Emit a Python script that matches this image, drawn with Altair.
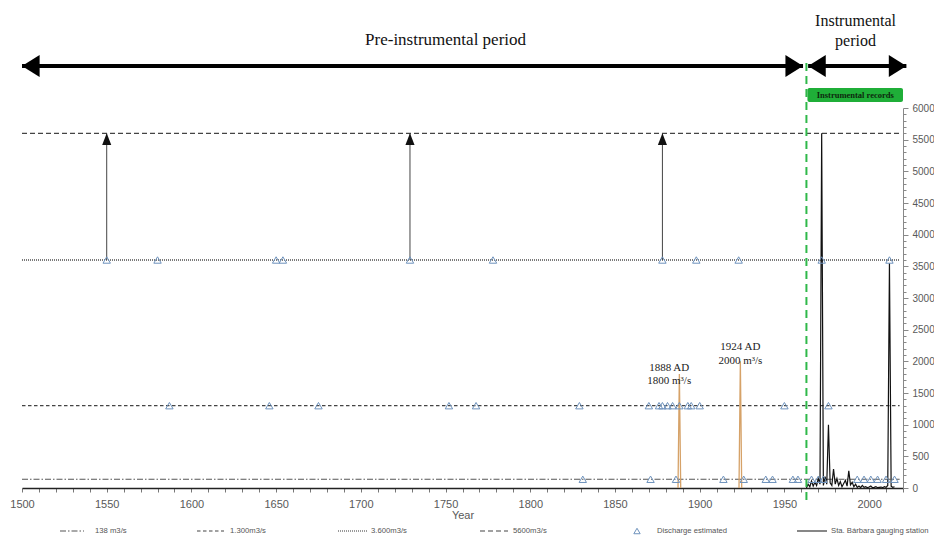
import altair as alt
import pandas as pd

# ---------------- data ----------------
ref_levels = [138, 1300, 3600, 5600]
ref_names = ["138 m3/s", "1.300m3/s", "3.600m3/s", "5600m3/s"]
ref_start, ref_end = 1500, 2018

est_years_138 = [1831, 1871, 1886, 1914, 1926, 1939, 1943, 1955, 1958, 1966,
                 1970, 1973, 1993, 1997, 2001, 2005, 2010, 2015]
est_years_1300 = [1587, 1646, 1675, 1752, 1768, 1829, 1870, 1876, 1878, 1881,
                  1884, 1888, 1893, 1895, 1900, 1950, 1976]
est_years_3600 = [1550, 1580, 1650, 1654, 1729, 1778, 1878, 1898, 1923, 1972, 2012]

arrow_years = [1550, 1729, 1878]
arrow_from, arrow_to = 3600, 5600

gauge_years = list(range(1963, 2016))
gauge_q = [0, 60, 20, 110, 30, 90, 40, 150, 60, 5600,
           40, 180, 60, 1000, 80, 40, 300, 60, 150, 40,
           100, 20, 70, 120, 30, 270, 50, 90, 20, 60,
           10, 30, 5, 40, 10, 20, 5, 15, 30, 5,
           10, 20, 5, 10, 15, 5, 20, 10, 40, 3550,
           30, 10, 20]

hist_years = [1888, 1924]
hist_q = [1800, 2000]
hist_line1 = ["1888 AD", "1924 AD"]
hist_line2 = ["1800 m³/s", "2000 m³/s"]

instrumental_start = 1963
x_ticks = list(range(1500, 2021, 10))
y_ticks = list(range(0, 6001, 100))

# ---------------- layout / style ----------------
W, H = 881, 380
SANS = "Liberation Sans"
SERIF = "Liberation Serif"
GREY = "#595959"
REF_DASH = {138: [6, 2, 1.5, 2], 1300: [3.5, 2.5], 3600: [1, 1], 5600: [5, 3]}
REF_COLOR = {138: "#555555", 1300: "#444444", 3600: "#7a7a7a", 5600: "#444444"}
REF_WIDTH = {138: 1.2, 1300: 1.2, 3600: 2.0, 5600: 1.2}
TRI_COLOR = "#6f93bd"
HIST_COLOR = "#d6a268"
GREEN = "#2fb84a"

xscale = alt.Scale(domain=[1500, 2020], nice=False, zero=False)
yscale = alt.Scale(domain=[0, 6000], nice=False, zero=True)

xaxis = alt.Axis(values=x_ticks, labelExpr="datum.value % 50 === 0 ? datum.value : ''",
                 labelOverlap=False, labelFlush=False, grid=False, tickSize=4,
                 tickColor="#777777", domainColor="#222222", domainWidth=1.6,
                 labelFont=SANS, labelFontSize=11, labelColor=GREY, labelPadding=6,
                 title="Year", titleFont=SANS, titleFontSize=11, titleFontWeight="normal",
                 titleColor=GREY, titlePadding=0)
yaxis = alt.Axis(orient="right", values=y_ticks,
                 labelExpr="datum.value % 500 === 0 ? datum.value : ''",
                 labelOverlap=False, labelFlush=False, grid=False,
                 tickSize={"condition": {"test": "datum.value % 500 === 0", "value": 5}, "value": 3},
                 tickColor="#888888", domainColor="#888888", domainWidth=1,
                 labelFont=SANS, labelFontSize=10, labelColor=GREY, labelPadding=4,
                 title="")


def X(field):
    return alt.X(field, type="quantitative", scale=xscale, axis=xaxis)


def Y(field):
    return alt.Y(field, type="quantitative", scale=yscale, axis=yaxis)


layers = []

# reference discharge levels
for lvl in ref_levels:
    df = pd.DataFrame({"x": [ref_start], "x2": [ref_end], "q": [lvl]})
    layers.append(alt.Chart(df).mark_rule(color=REF_COLOR[lvl], strokeWidth=REF_WIDTH[lvl],
                                          strokeDash=REF_DASH[lvl]).encode(
        x=X("x"), x2="x2", y=Y("q")))

# historical spikes (orange)
spike_rows = []
for yr, q in zip(hist_years, hist_q):
    for dx, val in ((-0.8, 0), (0, q), (0.8, 0)):
        spike_rows.append({"event": str(yr), "year": yr + dx, "q": val})
spikes = pd.DataFrame(spike_rows)
layers.append(alt.Chart(spikes).mark_line(color=HIST_COLOR, strokeWidth=1.3).encode(
    x=X("year"), y=Y("q"), detail="event:N", order="year:Q"))

# historical labels
hist_df = pd.DataFrame({"year": hist_years, "q": hist_q, "l1": hist_line1, "l2": hist_line2,
                        "lx": [1882, 1924], "y1": [1900, 2230], "y2": [1690, 2010]})
layers.append(alt.Chart(hist_df).mark_text(font=SERIF, fontSize=11, color="#222222").encode(
    x=X("lx"), y=Y("y1"), text="l1:N"))
layers.append(alt.Chart(hist_df).mark_text(font=SERIF, fontSize=11, color="#222222").encode(
    x=X("lx"), y=Y("y2"), text="l2:N"))

# vertical arrows 3600 -> 5600
arr = pd.DataFrame({"year": arrow_years, "q0": [arrow_from] * len(arrow_years),
                    "q1": [arrow_to] * len(arrow_years)})
layers.append(alt.Chart(arr).mark_rule(color="#444444", strokeWidth=1).encode(
    x=X("year"), y=Y("q0"), y2="q1"))
layers.append(alt.Chart(arr).mark_point(shape="M0,0 L-0.7,1.8 L0.7,1.8 Z", filled=True,
                                        size=170, color="#111111", opacity=1, strokeWidth=0).encode(
    x=X("year"), y=Y("q1")))

# gauging station series
gauge = pd.DataFrame({"year": gauge_years, "q": gauge_q})
layers.append(alt.Chart(gauge).mark_line(color="#111111", strokeWidth=1.2).encode(
    x=X("year"), y=Y("q")))

# estimated discharge triangles
est = pd.DataFrame({
    "year": est_years_138 + est_years_1300 + est_years_3600,
    "q": [138] * len(est_years_138) + [1300] * len(est_years_1300) + [3600] * len(est_years_3600),
})
layers.append(alt.Chart(est).mark_point(shape="triangle-up", filled=False, size=55,
                                        color=TRI_COLOR, strokeWidth=1, opacity=1).encode(
    x=X("year"), y=Y("q")))

# instrumental start line and box
gl = pd.DataFrame({"year": [instrumental_start], "q0": [-190], "q1": [6790]})
layers.append(alt.Chart(gl).mark_rule(color=GREEN, strokeWidth=2, strokeDash=[8, 5]).encode(
    x=X("year"), y=Y("q0"), y2="q1"))
box = pd.DataFrame({"x0": [1963.6], "x1": [2020], "q0": [6095], "q1": [6316],
                    "xm": [1991.8], "qm": [6205], "t": ["Instrumental records"]})
layers.append(alt.Chart(box).mark_rect(color="#1fae38", cornerRadius=2).encode(
    x=X("x0"), x2="x1", y=Y("q0"), y2="q1"))
layers.append(alt.Chart(box).mark_text(font=SERIF, fontSize=8.5, fontWeight="bold",
                                       color="#0d2a0d").encode(
    x=X("xm"), y=Y("qm"), text="t:N"))

# period arrows on top
per = pd.DataFrame({"x0": [1500, 1964], "x1": [1961, 2022], "q": [6663, 6663]})
layers.append(alt.Chart(per).mark_rule(color="#000000", strokeWidth=4).encode(
    x=X("x0"), x2="x1", y=Y("q")))
layers.append(alt.Chart(per).mark_point(shape="M0,0 L1.6,-1 L1.6,1 Z", filled=True, size=484,
                                        color="#000000", opacity=1, strokeWidth=0).encode(
    x=X("x0"), y=Y("q")))
layers.append(alt.Chart(per).mark_point(shape="M0,0 L-1.6,-1 L-1.6,1 Z", filled=True, size=484,
                                        color="#000000", opacity=1, strokeWidth=0).encode(
    x=X("x1"), y=Y("q")))
ptxt = pd.DataFrame({"x": [1750, 1992, 1992], "q": [7074, 7380, 7060],
                     "t": ["Pre-instrumental period", "Instrumental", "period"],
                     "s": [17, 16, 16]})
layers.append(alt.Chart(ptxt).mark_text(font=SERIF, color="#111111").encode(
    x=X("x"), y=Y("q"), text="t:N", size=alt.Size("s:Q", scale=None, legend=None)))

# manual legend (pixel positions relative to the plot area)
LEG_Y = 423
LEG_FS = 7.7
legend_items = [
    ("line", ref_names[0], REF_DASH[138], REF_COLOR[138], 1.2, 38, 62, 73),
    ("line", ref_names[1], REF_DASH[1300], REF_COLOR[1300], 1.2, 175, 202, 208),
    ("line", ref_names[2], REF_DASH[3600], REF_COLOR[3600], 1.5, 316, 345, 349),
    ("line", ref_names[3], REF_DASH[5600], REF_COLOR[5600], 1.2, 458, 486, 491),
    ("tri", "Discharge estimated", None, TRI_COLOR, 1, 615, 615, 635),
    ("line", "Sta. Bárbara gauging station", [1, 0], "#111111", 1.2, 775, 805, 809),
]
one = pd.DataFrame({"a": [0]})
for kind, label, dash, col, sw, xa, xb, xt in legend_items:
    if kind == "line":
        layers.append(alt.Chart(one).mark_rule(color=col, strokeWidth=sw, strokeDash=dash).encode(
            x=alt.value(xa), x2=alt.value(xb), y=alt.value(LEG_Y)))
    else:
        layers.append(alt.Chart(one).mark_point(shape="triangle-up", filled=False, size=40,
                                                color=col, strokeWidth=1, opacity=1).encode(
            x=alt.value(xa), y=alt.value(LEG_Y)))
    layers.append(alt.Chart(one).mark_text(font=SANS, fontSize=LEG_FS, color="#555555", align="left",
                                           baseline="middle", text=label).encode(
        x=alt.value(xt), y=alt.value(LEG_Y)))

chart = alt.layer(*layers).properties(
    width=W, height=H, background="white",
    padding={"left": 22, "top": 108, "right": 31, "bottom": 50},
    autosize=alt.AutoSizeParams(type="none"),
).configure_view(stroke=None)

chart.save("out.html", embed_options={"renderer": "svg", "actions": False})
